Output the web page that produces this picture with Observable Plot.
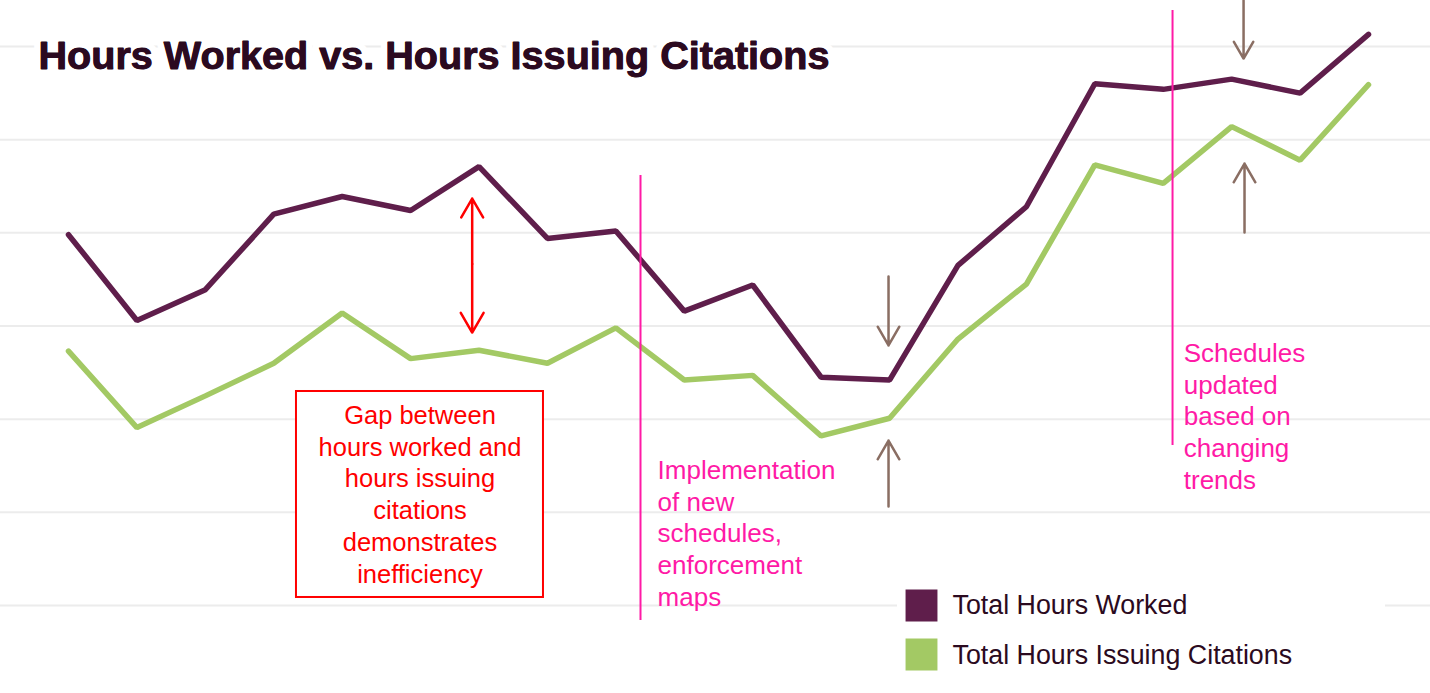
<!DOCTYPE html>
<html>
<head>
<meta charset="utf-8">
<script src="https://cdn.jsdelivr.net/npm/d3@7"></script>
<script src="https://cdn.jsdelivr.net/npm/@observablehq/plot@0.6"></script>
<style>
  html, body { margin: 0; padding: 0; background: #fff; }
  #chart { width: 1430px; height: 693px; overflow: hidden; }
</style>
</head>
<body>
<div id="chart"></div>
<script>
// ---- data (units are grid steps) ----
const periods = [1, 2, 3, 4, 5, 6, 7, 8, 9, 10, 11, 12, 13, 14, 15, 16, 17, 18, 19, 20];
const hoursWorked = [3.98, 3.06, 3.39, 4.20, 4.39, 4.24, 4.71, 3.94, 4.02, 3.16, 3.44, 2.45, 2.42, 3.65, 4.28, 5.60, 5.54, 5.65, 5.50, 6.13];
const hoursCitations = [2.73, 1.91, 2.25, 2.60, 3.14, 2.65, 2.74, 2.60, 2.98, 2.42, 2.47, 1.82, 2.01, 2.86, 3.45, 4.73, 4.53, 5.14, 4.78, 5.59];
const gridValues = [0, 1, 2, 3, 4, 5, 6];
const seriesNames = ["Total Hours Worked", "Total Hours Issuing Citations"];
const titleText = "Hours Worked vs. Hours Issuing Citations";
const gapNote = "Gap between\nhours worked and\nhours issuing\ncitations\ndemonstrates\ninefficiency";
const implNote = "Implementation\nof new\nschedules,\nenforcement\nmaps";
const schedNote = "Schedules\nupdated\nbased on\nchanging\ntrends";

// ---- build table ----
const rows = [];
periods.forEach((p, i) => {
  rows.push({period: p, value: hoursWorked[i], series: seriesNames[0]});
  rows.push({period: p, value: hoursCitations[i], series: seriesNames[1]});
});

const PURPLE = "#5f1e4b";
const GREEN = "#a3c964";
const PINK = "#ff1aa6";
const RED = "#ff0000";
const BROWN = "#8a6e63";
const DARK = "#2b0a20";
const FONT = "'Liberation Sans', Arial, sans-serif";

const chart = Plot.plot({
  width: 1430,
  height: 693,
  marginLeft: 68,
  marginRight: 62,
  marginTop: 46,
  marginBottom: 88,
  style: {fontFamily: FONT, background: "#fff", overflow: "visible"},
  x: {domain: [1, 20], axis: null},
  y: {domain: [0, 6], axis: null},
  marks: [
    // gridlines across the full width
    Plot.ruleY(gridValues, {stroke: "#ececec", strokeWidth: 2, insetLeft: -68, insetRight: -62}),
    // legend background (hides the gridline under it)
    Plot.rect([{}], {x1: 13.116, x2: 20.249, y1: -0.17, y2: 0.17, fill: "#fff"}),
    // title (white halo hides the gridline behind it)
    Plot.text([titleText], {x: 0.5615, y: 5.898, text: d => d, textAnchor: "start", lineAnchor: "middle",
      fontSize: 39.6, fontWeight: 700, fill: DARK, stroke: "#fff", strokeWidth: 14}),
    Plot.text([titleText], {x: 0.5615, y: 5.898, text: d => d, textAnchor: "start", lineAnchor: "middle",
      fontSize: 39.6, fontWeight: 700, fill: DARK, stroke: DARK, strokeWidth: 0.9}),
    // series lines
    Plot.lineY(rows.filter(d => d.series === seriesNames[1]), {x: "period", y: "value", stroke: GREEN, strokeWidth: 5.5, strokeLinejoin: "miter"}),
    Plot.lineY(rows.filter(d => d.series === seriesNames[0]), {x: "period", y: "value", stroke: PURPLE, strokeWidth: 5.5, strokeLinejoin: "miter"}),
    // pink event lines
    Plot.ruleX([{x: 9.36, y1: -0.161, y2: 4.615}, {x: 17.136, y1: 1.717, y2: 6.386}], {x: "x", y1: "y1", y2: "y2", stroke: PINK, strokeWidth: 2}),
    Plot.text([implNote], {x: 9.61, y: 0.787, text: d => d, textAnchor: "start", lineAnchor: "middle", lineHeight: 1.22, fontSize: 26, fill: PINK}),
    Plot.text([schedNote], {x: 17.30, y: 2.042, text: d => d, textAnchor: "start", lineAnchor: "middle", lineHeight: 1.22, fontSize: 26, fill: PINK}),
    // red gap box
    Plot.rect([{}], {x1: 4.332, x2: 7.942, y1: 0.086, y2: 2.297, fill: "#fff", stroke: RED, strokeWidth: 2}),
    Plot.text([gapNote], {x: 6.137, y: 1.206, text: d => d, textAnchor: "middle", lineAnchor: "middle", lineHeight: 1.25, fontSize: 25.5, fill: RED}),
    // red double-headed arrow
    Plot.arrow([{y1: 3.665, y2: 4.368}, {y1: 3.665, y2: 2.930}], {x1: 6.9, x2: 6.9, y1: "y1", y2: "y2", stroke: RED, strokeWidth: 2.5, headLength: 14, headAngle: 60}),
    // brown arrows
    Plot.arrow([
      {x: 12.985, y1: 3.531, y2: 2.791},
      {x: 12.985, y1: 1.063, y2: 1.771},
      {x: 18.174, y1: 6.494, y2: 5.871},
      {x: 18.188, y1: 4.003, y2: 4.744}
    ], {x1: "x", x2: "x", y1: "y1", y2: "y2", stroke: BROWN, strokeWidth: 2.5, headLength: 13, headAngle: 60}),
    // legend
    Plot.dot([{y: 0, c: PURPLE}, {y: -0.526, c: GREEN}], {x: 13.467, y: "y", symbol: "square", r: 18, fill: "c", stroke: null}),
    Plot.text(seriesNames, {x: 13.92, y: (d, i) => [0, -0.537][i], text: d => d, textAnchor: "start", lineAnchor: "middle", fontSize: 26.8, fill: DARK})
  ]
});
document.getElementById("chart").appendChild(chart);
</script>
</body>
</html>
